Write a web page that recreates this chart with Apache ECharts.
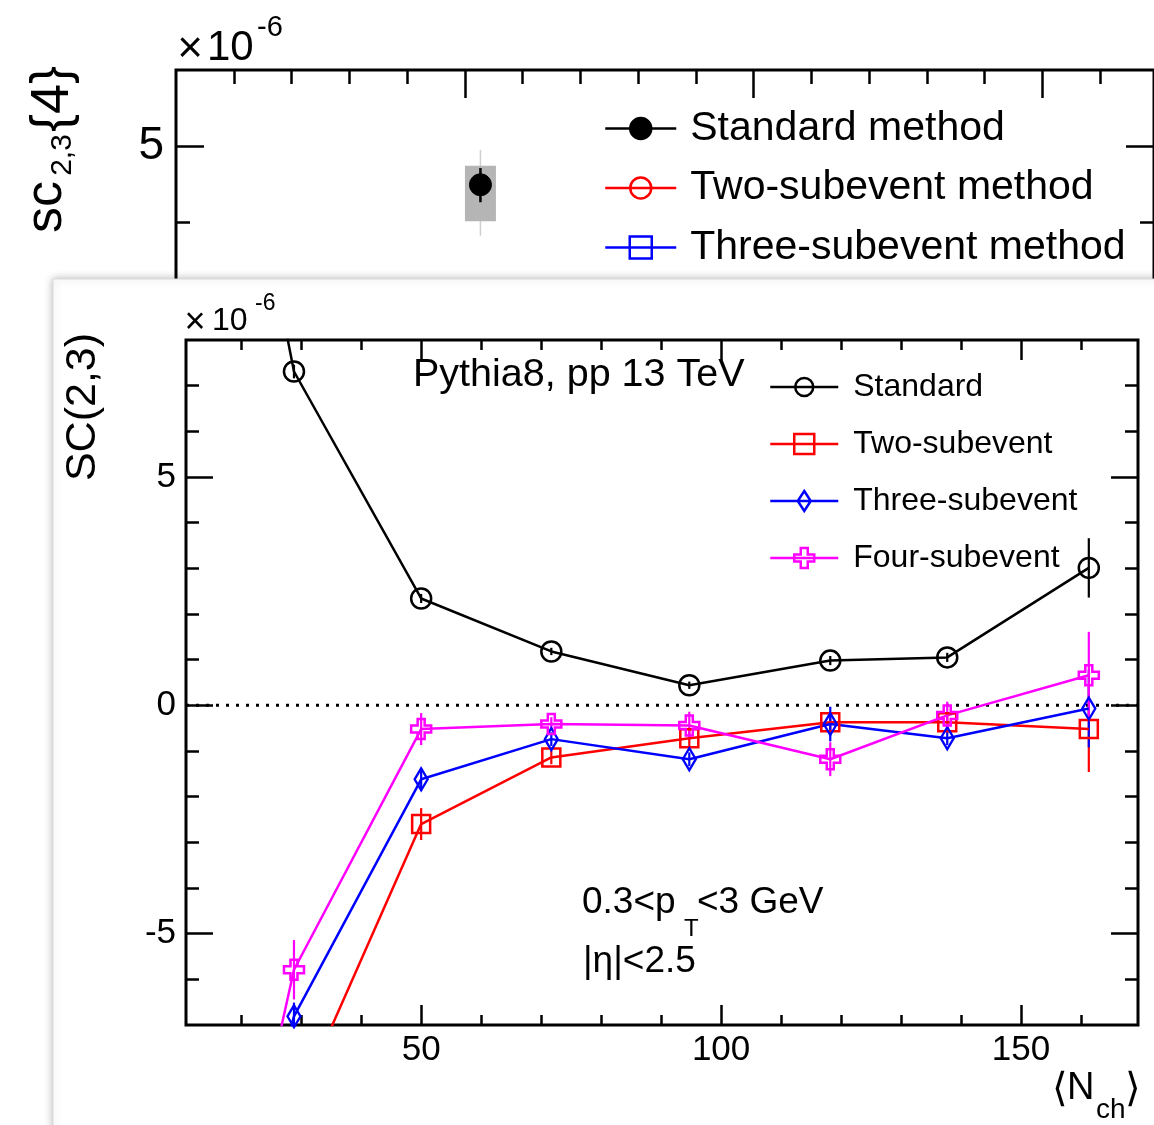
<!DOCTYPE html>
<html><head><meta charset="utf-8">
<script src="https://cdn.jsdelivr.net/npm/echarts@6/dist/echarts.min.js"></script>
<style>html,body{margin:0;padding:0;background:#fff;overflow:hidden}#c{width:1154px;height:1125px}</style>
</head><body><div id="c"></div>
<script>
// ===== main (front) panel data : SC(2,3) vs <Nch>, Pythia8 pp 13 TeV =====
const nch        = [17, 28.8, 50, 71.7, 94.7, 118.2, 137.7, 161.3];
const scStandard = [15.2, 7.31, 2.34, 1.18, 0.44, 0.98, 1.05, 3.01];
const errStandard= [0.3, 0.15, 0.1, 0.08, 0.08, 0.1, 0.1, 0.65];
const scTwoSub   = [-15, -8.9, -2.60, -1.14, -0.72, -0.37, -0.37, -0.52];
const errTwoSub  = [0.8, 0.5, 0.35, 0.15, 0.2, 0.2, 0.2, 0.94];
const scThreeSub = [-12.5, -6.81, -1.62, -0.74, -1.18, -0.41, -0.72, -0.07];
const errThreeSub= [0.6, 0.3, 0.25, 0.15, 0.15, 0.38, 0.15, 0.85];
const scFourSub  = [-12.8, -5.79, -0.52, -0.41, -0.44, -1.18, -0.22, 0.66];
const errFourSub = [0.9, 0.65, 0.35, 0.15, 0.3, 0.37, 0.3, 0.95];
const zeroLevel  = [0];

const mainXMajor = [50, 100, 150];
const mainXMinor = [20, 30, 40, 60, 70, 80, 90, 110, 120, 130, 140, 160];
const mainYMajor = [-5, 0, 5];
const mainYMinor = [-6, -4, -3, -2, -1, 1, 2, 3, 4, 6, 7];

// ===== back panel data : sc_{2,3}{4} =====
const topNch     = [52.7];
const topSc      = [4.49];
const topStatLow = [4.26];
const topStatHigh= [4.71];
const topSysLow  = [4.01];
const topSysHigh = [4.74];
const topTotLow  = [3.82];
const topTotHigh = [4.95];

const topXMajor = [50, 100, 150];
const topXMinor = [10, 20, 30, 40, 60, 70, 80, 90, 110, 120, 130, 140, 160];
const topYMajor = [0, 5];
const topYMinor = [1, 2, 3, 4];

const FONT = "'Liberation Sans', Arial, Helvetica, sans-serif";

function tickAxis(o) {
  return {
    type: 'value', gridIndex: o.grid, position: o.pos, min: o.min, max: o.max,
    axisLine: {show: false, onZero: false}, splitLine: {show: false},
    axisTick: {show: true, inside: true, length: o.len, customValues: o.ticks,
               lineStyle: {color: '#000', width: 2.5}},
    axisLabel: o.labels ? {show: true, customValues: o.ticks, fontSize: o.fs, color: '#000',
               fontFamily: FONT, margin: o.margin} : {show: false},
    z: o.z
  };
}

function errSeries(xs, ys, es, color, xi, yi, z) {
  return {
    type: 'custom', xAxisIndex: xi, yAxisIndex: yi, z: z, clip: true, silent: true,
    data: xs.map((x, i) => [x, ys[i], es[i]]),
    renderItem: function (params, api) {
      const x = api.value(0), y = api.value(1), e = api.value(2);
      const p1 = api.coord([x, y + e]), p2 = api.coord([x, y - e]);
      return {type: 'line', shape: {x1: p1[0], y1: p1[1], x2: p2[0], y2: p2[1]},
              style: {stroke: color, lineWidth: 2.2}};
    }
  };
}

function lineSeries(name, ys, color, symbol, size, z) {
  return {
    type: 'line', name: name, xAxisIndex: 2, yAxisIndex: 4, z: z, clip: true,
    data: nch.map((x, i) => [x, ys[i]]),
    symbol: symbol, symbolSize: size, showAllSymbol: true,
    lineStyle: {color: color, width: 2.5},
    itemStyle: {color: 'rgba(255,255,255,0)', borderColor: color, borderWidth: 2.5},
    emphasis: {disabled: true}
  };
}

const SYM_DIAMOND = 'path://M0,-11L6.5,0L0,11L-6.5,0Z';
const SYM_CROSS = 'path://M-3.5,-10L3.5,-10L3.5,-3.5L10,-3.5L10,3.5L3.5,3.5L3.5,10L-3.5,10L-3.5,3.5L-10,3.5L-10,-3.5L-3.5,-3.5Z';

const option = {
  animation: false,
  backgroundColor: '#fff',
  grid: [
    {left: 176, top: 70, width: 989, height: 456, show: true, borderColor: '#000', borderWidth: 3,
     backgroundColor: 'rgba(0,0,0,0)', z: 0},
    {left: 186, top: 340, width: 952, height: 685, show: true, borderColor: '#000', borderWidth: 3,
     backgroundColor: 'rgba(0,0,0,0)', z: 12}
  ],
  xAxis: [
    tickAxis({grid: 0, pos: 'top', min: 0, max: 169.3, len: 28, ticks: topXMajor, z: 1}),
    tickAxis({grid: 0, pos: 'top', min: 0, max: 169.3, len: 14, ticks: topXMinor, z: 1}),
    tickAxis({grid: 1, pos: 'bottom', min: 10.8, max: 169.5, len: 20, ticks: mainXMajor, labels: true, fs: 35, margin: 8, z: 12}),
    tickAxis({grid: 1, pos: 'bottom', min: 10.8, max: 169.5, len: 10, ticks: mainXMinor, z: 12}),
    tickAxis({grid: 1, pos: 'top', min: 10.8, max: 169.5, len: 20, ticks: mainXMajor, z: 12}),
    tickAxis({grid: 1, pos: 'top', min: 10.8, max: 169.5, len: 10, ticks: mainXMinor, z: 12})
  ],
  yAxis: [
    tickAxis({grid: 0, pos: 'left', min: 0, max: 6, len: 28, ticks: topYMajor, labels: true, fs: 46, margin: 12, z: 1}),
    tickAxis({grid: 0, pos: 'left', min: 0, max: 6, len: 14, ticks: topYMinor, z: 1}),
    tickAxis({grid: 0, pos: 'right', min: 0, max: 6, len: 28, ticks: topYMajor, z: 1}),
    tickAxis({grid: 0, pos: 'right', min: 0, max: 6, len: 14, ticks: topYMinor, z: 1}),
    tickAxis({grid: 1, pos: 'left', min: -7, max: 8, len: 27, ticks: mainYMajor, labels: true, fs: 35, margin: 10, z: 12}),
    tickAxis({grid: 1, pos: 'left', min: -7, max: 8, len: 13, ticks: mainYMinor, z: 12}),
    tickAxis({grid: 1, pos: 'right', min: -7, max: 8, len: 27, ticks: mainYMajor, z: 12}),
    tickAxis({grid: 1, pos: 'right', min: -7, max: 8, len: 13, ticks: mainYMinor, z: 12})
  ],
  legend: [
    {orient: 'vertical', left: 604, top: 108, padding: 0, itemWidth: 71, itemHeight: 22, itemGap: 18.5,
     selectedMode: false, z: 4,
     textStyle: {fontSize: 41, color: '#000', fontFamily: FONT, lineHeight: 40, padding: [0, 0, 0, 9]},
     data: [
       {name: 'Standard method', icon: 'path://M0,11L71,11M46,11A10.5,10.5,0,1,1,25,11A10.5,10.5,0,1,1,46,11Z',
        itemStyle: {color: '#000', borderColor: '#000', borderWidth: 2.5}},
       {name: 'Two-subevent method', icon: 'path://M0,11L71,11M46,11A10.5,10.5,0,1,1,25,11A10.5,10.5,0,1,1,46,11Z',
        itemStyle: {color: 'rgba(255,255,255,0)', borderColor: '#ff0000', borderWidth: 2.5}},
       {name: 'Three-subevent method', icon: 'path://M0,11L71,11M24.5,0H46.5V22H24.5Z',
        itemStyle: {color: 'rgba(255,255,255,0)', borderColor: '#0000ff', borderWidth: 2.5}}
     ]},
    {orient: 'vertical', left: 769, top: 371, padding: 0, itemWidth: 68, itemHeight: 20, itemGap: 25,
     selectedMode: false, z: 15,
     textStyle: {fontSize: 32, color: '#000', fontFamily: FONT, lineHeight: 32, padding: [0, 0, 0, 10]},
     data: [
       {name: 'Standard', icon: 'path://M0,10L68,10M43,10A9,9,0,1,1,25,10A9,9,0,1,1,43,10Z',
        itemStyle: {color: 'rgba(255,255,255,0)', borderColor: '#000', borderWidth: 2.5}},
       {name: 'Two-subevent', icon: 'path://M0,10L68,10M24,0H44V20H24Z',
        itemStyle: {color: 'rgba(255,255,255,0)', borderColor: '#ff0000', borderWidth: 2.5}},
       {name: 'Three-subevent', icon: 'path://M0,10L68,10M34,0L40.5,10L34,20L27.5,10Z',
        itemStyle: {color: 'rgba(255,255,255,0)', borderColor: '#0000ff', borderWidth: 2.5}},
       {name: 'Four-subevent', icon: 'path://M0,10L68,10M30.5,0H37.5V6.5H44V13.5H37.5V20H30.5V13.5H24V6.5H30.5Z',
        itemStyle: {color: 'rgba(255,255,255,0)', borderColor: '#ff00ff', borderWidth: 2.5}}
     ]}
  ],
  series: [
    // ---- back panel ----
    {type: 'custom', xAxisIndex: 0, yAxisIndex: 0, z: 2, silent: true,
     data: topNch.map((x, i) => [x, topSysLow[i], topSysHigh[i], topTotLow[i], topTotHigh[i], topStatLow[i], topStatHigh[i]]),
     renderItem: function (params, api) {
       const x = api.value(0);
       const sLo = api.coord([x, api.value(1)]), sHi = api.coord([x, api.value(2)]);
       const tLo = api.coord([x, api.value(3)]), tHi = api.coord([x, api.value(4)]);
       const kLo = api.coord([x, api.value(5)]), kHi = api.coord([x, api.value(6)]);
       return {type: 'group', children: [
         {type: 'line', shape: {x1: tLo[0], y1: tLo[1], x2: tHi[0], y2: tHi[1]}, style: {stroke: '#cfcfcf', lineWidth: 1.5}},
         {type: 'rect', shape: {x: sHi[0] - 15.5, y: sHi[1], width: 31, height: sLo[1] - sHi[1]}, style: {fill: '#b5b5b5'}},
         {type: 'line', shape: {x1: kLo[0], y1: kLo[1], x2: kHi[0], y2: kHi[1]}, style: {stroke: '#000', lineWidth: 2.5}}
       ]};
     }},
    {type: 'line', name: 'Standard method', xAxisIndex: 0, yAxisIndex: 0, z: 3,
     data: topNch.map((x, i) => [x, topSc[i]]), symbol: 'circle', symbolSize: 22,
     lineStyle: {color: '#000', width: 2.5}, itemStyle: {color: '#000', borderColor: '#000', borderWidth: 1},
     emphasis: {disabled: true}},
    {type: 'line', name: 'Two-subevent method', xAxisIndex: 0, yAxisIndex: 0, z: 3, data: [],
     symbol: 'circle', lineStyle: {color: '#ff0000'}, itemStyle: {color: '#ff0000'}},
    {type: 'line', name: 'Three-subevent method', xAxisIndex: 0, yAxisIndex: 0, z: 3, data: [],
     symbol: 'rect', lineStyle: {color: '#0000ff'}, itemStyle: {color: '#0000ff'}},
    // ---- main panel ----
    {type: 'custom', xAxisIndex: 2, yAxisIndex: 4, z: 13, silent: true, clip: true,
     data: zeroLevel.map(v => [nch[0], v]),
     renderItem: function (params, api) {
       const cs = params.coordSys;
       const py = api.coord([api.value(0), api.value(1)])[1];
       return {type: 'line', shape: {x1: cs.x, y1: py, x2: cs.x + cs.width, y2: py},
               style: {stroke: '#000', lineWidth: 3, lineDash: [3, 7]}};
     }},
    errSeries(nch, scStandard, errStandard, '#000', 2, 4, 13),
    errSeries(nch, scTwoSub, errTwoSub, '#ff0000', 2, 4, 13),
    errSeries(nch, scThreeSub, errThreeSub, '#0000ff', 2, 4, 13),
    errSeries(nch, scFourSub, errFourSub, '#ff00ff', 2, 4, 13),
    lineSeries('Standard', scStandard, '#000', 'circle', 20, 14),
    lineSeries('Two-subevent', scTwoSub, '#ff0000', 'rect', 18, 14),
    lineSeries('Three-subevent', scThreeSub, '#0000ff', SYM_DIAMOND, [13, 22], 14),
    lineSeries('Four-subevent', scFourSub, '#ff00ff', SYM_CROSS, 20, 14)
  ],
  graphic: {elements: [
    // back panel texts
    {type: 'text', z: 1, x: 190, y: 50, style: {text: '×', font: '44px ' + FONT, fill: '#000', textAlign: 'center', textVerticalAlign: 'middle'}},
    {type: 'text', z: 1, x: 207, y: 48, style: {text: '10', font: '42px ' + FONT, fill: '#000', textAlign: 'left', textVerticalAlign: 'middle'}},
    {type: 'text', z: 1, x: 257, y: 28, style: {text: '-6', font: '29px ' + FONT, fill: '#000', textAlign: 'left', textVerticalAlign: 'middle'}},
    {type: 'text', z: 1, x: 47, y: 207, rotation: Math.PI / 2, style: {text: 'sc', font: '52px ' + FONT, fill: '#000', textAlign: 'center', textVerticalAlign: 'middle'}},
    {type: 'text', z: 1, x: 63, y: 155, rotation: Math.PI / 2, style: {text: '2,3', font: '30px ' + FONT, fill: '#000', textAlign: 'center', textVerticalAlign: 'middle'}},
    {type: 'text', z: 1, x: 53, y: 99, rotation: Math.PI / 2, style: {text: '{4}', font: '54px ' + FONT, fill: '#000', textAlign: 'center', textVerticalAlign: 'middle'}},
    // front panel sheet
    {type: 'rect', z: 10, shape: {x: 53, y: 279, width: 1200, height: 900},
     style: {fill: '#fff', stroke: '#d9dddc', lineWidth: 1, shadowBlur: 8, shadowColor: 'rgba(0,0,0,0.28)'}},
    // front panel texts
    {type: 'text', z: 16, x: 195, y: 323, style: {text: '×', font: '36px ' + FONT, fill: '#000', textAlign: 'center', textVerticalAlign: 'middle'}},
    {type: 'text', z: 16, x: 212, y: 321, style: {text: '10', font: '32px ' + FONT, fill: '#000', textAlign: 'left', textVerticalAlign: 'middle'}},
    {type: 'text', z: 16, x: 255, y: 304, style: {text: '-6', font: '23px ' + FONT, fill: '#000', textAlign: 'left', textVerticalAlign: 'middle'}},
    {type: 'text', z: 16, x: 83, y: 407, rotation: Math.PI / 2, style: {text: 'SC(2,3)', font: '43px ' + FONT, fill: '#000', textAlign: 'center', textVerticalAlign: 'middle'}},
    {type: 'text', z: 16, x: 413, y: 375, style: {text: 'Pythia8, pp 13 TeV', font: '39.5px ' + FONT, fill: '#000', textAlign: 'left', textVerticalAlign: 'middle'}},
    {type: 'text', z: 16, x: 582, y: 903, style: {text: '0.3<p', font: '37px ' + FONT, fill: '#000', textAlign: 'left', textVerticalAlign: 'middle'}},
    {type: 'text', z: 16, x: 684, y: 929, style: {text: 'T', font: '24px ' + FONT, fill: '#000', textAlign: 'left', textVerticalAlign: 'middle'}},
    {type: 'text', z: 16, x: 697, y: 903, style: {text: '<3 GeV', font: '37px ' + FONT, fill: '#000', textAlign: 'left', textVerticalAlign: 'middle'}},
    {type: 'text', z: 16, x: 583, y: 962, style: {text: '|η|<2.5', font: '37px ' + FONT, fill: '#000', textAlign: 'left', textVerticalAlign: 'middle'}},
    {type: 'text', z: 16, x: 1060, y: 1090, style: {text: '⟨', font: '40px ' + FONT, fill: '#000', textAlign: 'center', textVerticalAlign: 'middle'}},
    {type: 'text', z: 16, x: 1067, y: 1089, style: {text: 'N', font: '38px ' + FONT, fill: '#000', textAlign: 'left', textVerticalAlign: 'middle'}},
    {type: 'text', z: 16, x: 1096, y: 1110, style: {text: 'ch', font: '28px ' + FONT, fill: '#000', textAlign: 'left', textVerticalAlign: 'middle'}},
    {type: 'text', z: 16, x: 1133, y: 1090, style: {text: '⟩', font: '40px ' + FONT, fill: '#000', textAlign: 'center', textVerticalAlign: 'middle'}}
  ]}
};

const chart = echarts.init(document.getElementById('c'), null, {renderer: 'canvas'});
chart.setOption(option);
</script>
</body></html>
